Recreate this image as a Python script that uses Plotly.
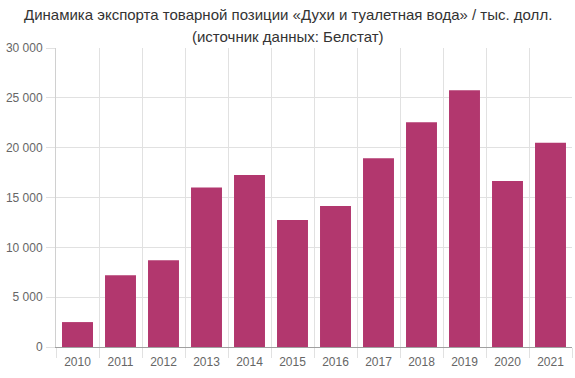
import plotly.graph_objects as go

years = ["2010", "2011", "2012", "2013", "2014", "2015", "2016", "2017", "2018", "2019", "2020", "2021"]
export_values = [2500, 7200, 8700, 16000, 17250, 12750, 14150, 18950, 22550, 25750, 16650, 20500]
title_line1 = "Динамика экспорта товарной позиции «Духи и туалетная вода» / тыс. долл."
title_line2 = "(источник данных: Белстат)"

W, H = 575, 378
L, R, T, B = 56, 3, 48, 31
pw = W - L - R
ph = H - T - B

fig = go.Figure(go.Bar(
    x=years, y=export_values,
    marker=dict(color="#B2376E", line=dict(width=0)),
    width=0.72,
    hoverinfo="x+y",
))

fig.update_layout(
    width=W, height=H,
    margin=dict(l=L, r=R, t=T, b=B, pad=0, autoexpand=False),
    paper_bgcolor="white", plot_bgcolor="white",
    font=dict(family="Arial, Liberation Sans, sans-serif", size=12, color="#666666"),
    separators=", ",
    showlegend=False,
)
fig.update_yaxes(
    range=[0, 30000], dtick=5000, tick0=0,
    separatethousands=True, exponentformat="none",
    showgrid=True, gridcolor="#e1e1e1", gridwidth=1,
    ticks="outside", ticklen=9, tickcolor="#e1e1e1",
    showline=True, linecolor="#d0d0d0", linewidth=1,
    zeroline=False, automargin=False,
    tickfont=dict(size=12, color="#666666"),
    ticklabelstandoff=1,
)
fig.update_xaxes(
    type="category",
    tickson="boundaries",
    showgrid=True, gridcolor="#e1e1e1", gridwidth=1,
    ticks="outside", ticklen=10, tickcolor="#e1e1e1",
    showline=True, linecolor="#a0a0a0", linewidth=1,
    automargin=False,
    tickfont=dict(size=12, color="#666666"),
    ticklabelstandoff=4,
    range=[-0.5, 11.5],
)

cx = (W / 2 - L) / pw
fig.add_annotation(text=title_line1, xref="paper", yref="paper",
                   x=cx, y=1 + (T - 14) / ph, xanchor="center", yanchor="middle",
                   showarrow=False, font=dict(size=15, color="#333333"))
fig.add_annotation(text=title_line2, xref="paper", yref="paper",
                   x=cx, y=1 + (T - 36) / ph, xanchor="center", yanchor="middle",
                   showarrow=False, font=dict(size=15, color="#333333"))

fig.write_html("out.html", config={"displayModeBar": False},
               post_script="document.body.style.margin='0';document.body.style.overflow='hidden';")
